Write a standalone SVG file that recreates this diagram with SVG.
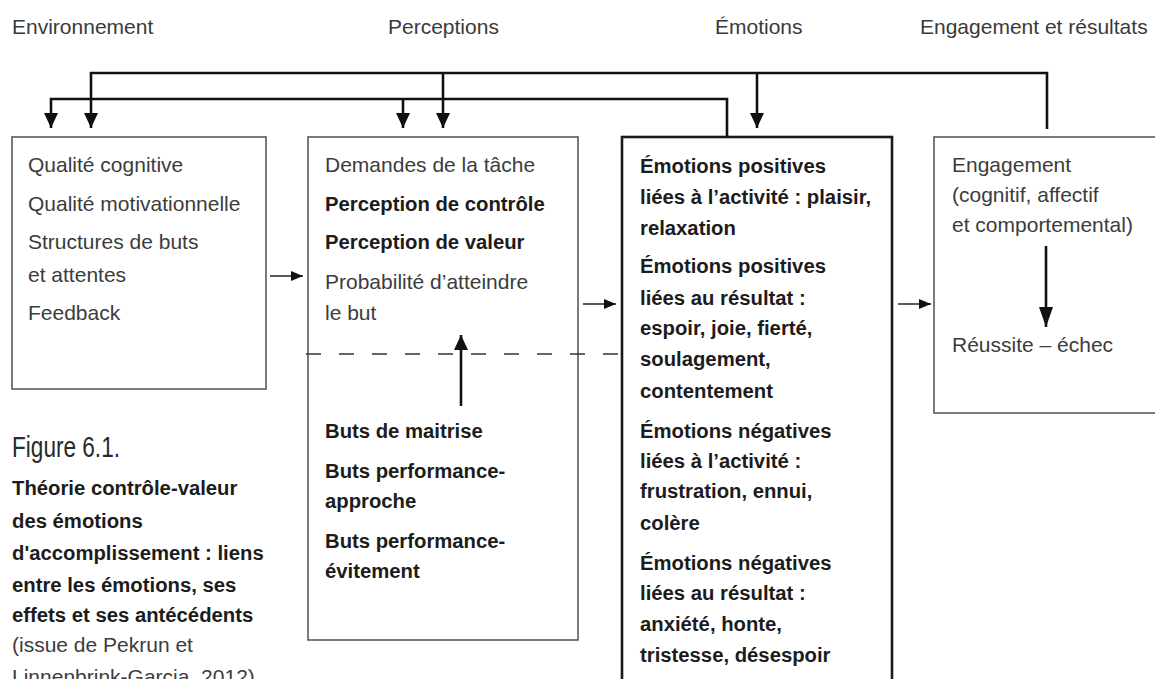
<svg xmlns="http://www.w3.org/2000/svg" width="1155" height="679" viewBox="0 0 1155 679">
<defs>
<style>
text{font-family:"Liberation Sans",Arial,sans-serif;}
.h{font-size:21px;fill:#3a3a3a;}
.r{font-size:21px;fill:#3c3c3c;}
.b{font-size:20.3px;font-weight:bold;fill:#1c1c1c;}
.box{fill:#fff;stroke:#5a5a5a;stroke-width:1.6;}
.box3{fill:#fff;stroke:#1a1a1a;stroke-width:2.6;}
.c{fill:none;stroke:#111;stroke-width:2.6;}
.t{fill:none;stroke:#222;stroke-width:1.6;}
.d{fill:none;stroke:#333;stroke-width:1.5;stroke-dasharray:15 18;}
</style>
<marker id="ah" markerUnits="userSpaceOnUse" markerWidth="15" markerHeight="14" refX="15" refY="7" orient="auto">
<path d="M0,0 L15,7 L0,14 z" fill="#111"/>
</marker>
<marker id="ahl" markerUnits="userSpaceOnUse" markerWidth="20" markerHeight="14" refX="20" refY="7" orient="auto">
<path d="M0,0 L20,7 L0,14 z" fill="#111"/>
</marker>
<marker id="as" markerUnits="userSpaceOnUse" markerWidth="12" markerHeight="10" refX="12" refY="5" orient="auto">
<path d="M0,0 L12,5 L0,10 z" fill="#111"/>
</marker>
</defs>

<g id="headers">
<text class="h" x="12" y="34">Environnement</text>
<text class="h" x="388" y="34">Perceptions</text>
<text class="h" x="715" y="34">Émotions</text>
<text class="h" x="920" y="34">Engagement et résultats</text>
</g>

<g id="environnement">
<rect class="box" x="12" y="137" width="254" height="252"/>
<text class="r" x="28" y="172">Qualité cognitive</text>
<text class="r" x="28" y="211">Qualité motivationnelle</text>
<text class="r" x="28" y="249">Structures de buts</text>
<text class="r" x="28" y="282">et attentes</text>
<text class="r" x="28" y="320">Feedback</text>
</g>

<g id="perceptions">
<rect class="box" x="308" y="137" width="270" height="503"/>
<text class="r" x="325" y="172">Demandes de la tâche</text>
<text class="b" x="325" y="211">Perception de contrôle</text>
<text class="b" x="325" y="249">Perception de valeur</text>
<text class="r" x="325" y="289">Probabilité d’atteindre</text>
<text class="r" x="325" y="320">le but</text>
<text class="b" x="325" y="438">Buts de maitrise</text>
<text class="b" x="325" y="478">Buts performance-</text>
<text class="b" x="325" y="508">approche</text>
<text class="b" x="325" y="548">Buts performance-</text>
<text class="b" x="325" y="578">évitement</text>
</g>

<g id="emotions">
<rect class="box3" x="622" y="137" width="270" height="560"/>
<text class="b" x="640" y="173">Émotions positives</text>
<text class="b" x="640" y="204">liées à l’activité : plaisir,</text>
<text class="b" x="640" y="235">relaxation</text>
<text class="b" x="640" y="273">Émotions positives</text>
<text class="b" x="640" y="305">liées au résultat :</text>
<text class="b" x="640" y="335">espoir, joie, fierté,</text>
<text class="b" x="640" y="366">soulagement,</text>
<text class="b" x="640" y="398">contentement</text>
<text class="b" x="640" y="438">Émotions négatives</text>
<text class="b" x="640" y="468">liées à l’activité :</text>
<text class="b" x="640" y="498">frustration, ennui,</text>
<text class="b" x="640" y="530">colère</text>
<text class="b" x="640" y="570">Émotions négatives</text>
<text class="b" x="640" y="600">liées au résultat :</text>
<text class="b" x="640" y="631">anxiété, honte,</text>
<text class="b" x="640" y="662">tristesse, désespoir</text>
</g>

<g id="engagement">
<rect class="box" x="934" y="137" width="240" height="276"/>
<text class="r" x="952" y="172">Engagement</text>
<text class="r" x="952" y="202">(cognitif, affectif</text>
<text class="r" x="952" y="232">et comportemental)</text>
<text class="r" x="952" y="352">Réussite – échec</text>
</g>

<g id="caption">
<text x="12" y="457" font-size="29" fill="#2a2a2a" textLength="108" lengthAdjust="spacingAndGlyphs">Figure 6.1.</text>
<text class="b" x="12" y="495">Théorie contrôle-valeur</text>
<text class="b" x="12" y="528">des émotions</text>
<text class="b" x="12" y="560">d'accomplissement : liens</text>
<text class="b" x="12" y="592">entre les émotions, ses</text>
<text class="b" x="12" y="622">effets et ses antécédents</text>
<text class="r" x="12" y="652">(issue de Pekrun et</text>
<text class="r" x="12" y="684">Linnenbrink-Garcia, 2012)</text>
</g>

<g id="connectors">
<path class="c" d="M1047,129 V73 H91 V128" marker-end="url(#ah)"/>
<path class="c" d="M443,73 V128" marker-end="url(#ah)"/>
<path class="c" d="M757,73 V128" marker-end="url(#ah)"/>
<path class="c" d="M727,137 V99 H51 V128" marker-end="url(#ah)"/>
<path class="c" d="M403,99 V128" marker-end="url(#ah)"/>
<path class="t" d="M270,276 H303" marker-end="url(#as)"/>
<path class="t" d="M583,304 H616" marker-end="url(#as)"/>
<path class="t" d="M898,304 H931" marker-end="url(#as)"/>
<path class="d" d="M306,354 H622"/>
<path class="c" d="M461,406 V335" marker-end="url(#ah)"/>
<path class="c" d="M1046,246 V327" marker-end="url(#ahl)"/>
</g>
</svg>
